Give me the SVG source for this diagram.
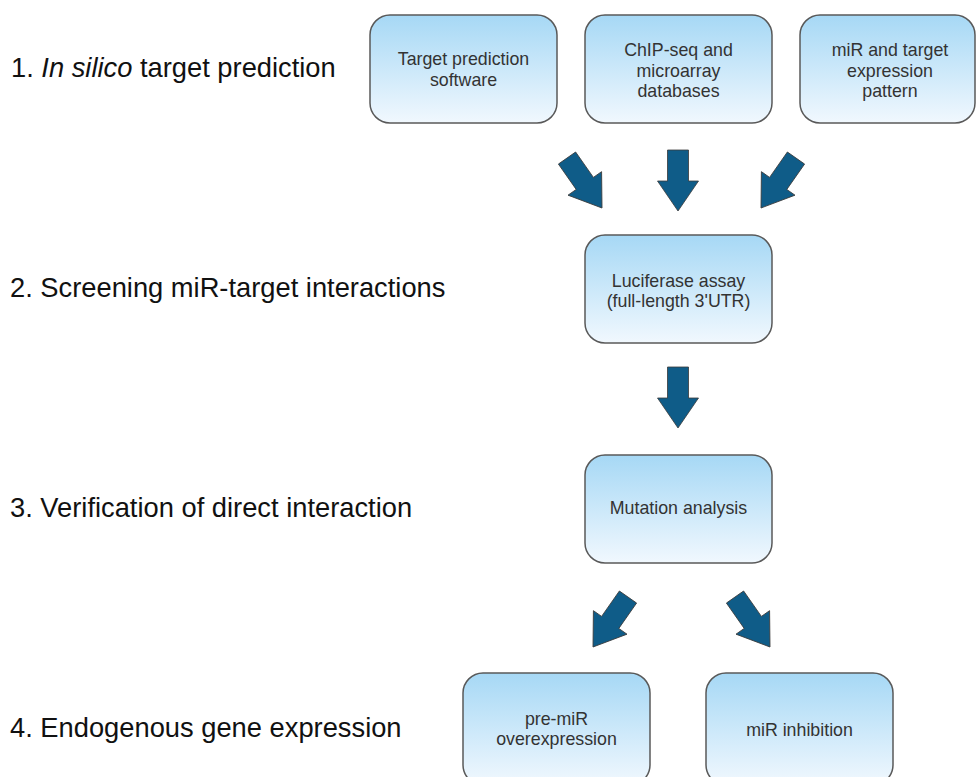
<svg xmlns="http://www.w3.org/2000/svg" width="976" height="777" viewBox="0 0 976 777">
  <style>
    .box { fill: url(#boxFill); stroke: #595959; stroke-width: 1.5; }
    .node-text { font-family: "Liberation Sans", Arial, sans-serif; font-size: 17.8px; fill: #333333; text-anchor: middle; }
    .step { font-family: "Liberation Sans", Arial, sans-serif; font-size: 27.3px; fill: #111111; }
    .arrow { fill: #0f5c88; stroke: #3a3a3a; stroke-width: 0.8; stroke-linejoin: miter; }
  </style>
  <defs>
    <linearGradient id="boxFill" x1="0" y1="0" x2="0" y2="1">
      <stop offset="0" stop-color="#a6d8f5"/>
      <stop offset="1" stop-color="#f1f8fe"/>
    </linearGradient>
    <!-- block arrow pointing down, tip at the origin -->
    <path id="blockArrow" d="M0,0 L20.5,-30 L10.5,-30 L10.5,-61 L-10.5,-61 L-10.5,-30 L-20.5,-30 Z"/>
  </defs>

  <rect width="976" height="777" fill="#ffffff"/>

  <!-- step labels -->
  <g id="steps">
    <text class="step" x="11" y="77">1. <tspan font-style="italic">In silico</tspan> target prediction</text>
    <text class="step" x="10" y="297">2. Screening miR-target interactions</text>
    <text class="step" x="10" y="517">3. Verification of direct interaction</text>
    <text class="step" x="10" y="737">4. Endogenous gene expression</text>
  </g>

  <g id="node-target-software">
    <rect class="box" x="370" y="15" width="187" height="108" rx="20" ry="20"/>
    <text class="node-text" x="463.5" y="65">Target prediction</text>
    <text class="node-text" x="463.5" y="86">software</text>
  </g>

  <g id="node-chipseq">
    <rect class="box" x="585" y="15" width="187" height="108" rx="20" ry="20"/>
    <text class="node-text" x="678.5" y="56">ChIP-seq and</text>
    <text class="node-text" x="678.5" y="76.5">microarray</text>
    <text class="node-text" x="678.5" y="97">databases</text>
  </g>

  <g id="node-expression-pattern">
    <rect class="box" x="800" y="15" width="175" height="108" rx="20" ry="20"/>
    <text class="node-text" x="890" y="56">miR and target</text>
    <text class="node-text" x="890" y="76.5">expression</text>
    <text class="node-text" x="890" y="97">pattern</text>
  </g>

  <g id="node-luciferase">
    <rect class="box" x="585" y="235" width="187" height="108" rx="20" ry="20"/>
    <text class="node-text" x="678.5" y="287">Luciferase assay</text>
    <text class="node-text" x="678.5" y="307">(full-length 3'UTR)</text>
  </g>

  <g id="node-mutation">
    <rect class="box" x="585" y="455" width="187" height="108" rx="20" ry="20"/>
    <text class="node-text" x="678.5" y="514">Mutation analysis</text>
  </g>

  <g id="node-overexpression">
    <rect class="box" x="463" y="673" width="187" height="112" rx="20" ry="20"/>
    <text class="node-text" x="556.5" y="725">pre-miR</text>
    <text class="node-text" x="556.5" y="745">overexpression</text>
  </g>

  <g id="node-inhibition">
    <rect class="box" x="706" y="673" width="187" height="112" rx="20" ry="20"/>
    <text class="node-text" x="799.5" y="736">miR inhibition</text>
  </g>

  <!-- connectors -->
  <g id="connectors">
    <use href="#blockArrow" class="arrow" transform="translate(602,208) rotate(-35)"/>
    <use href="#blockArrow" class="arrow" transform="translate(678,211)"/>
    <use href="#blockArrow" class="arrow" transform="translate(761,208) rotate(35)"/>
    <use href="#blockArrow" class="arrow" transform="translate(678,428)"/>
    <use href="#blockArrow" class="arrow" transform="translate(593,647) rotate(35)"/>
    <use href="#blockArrow" class="arrow" transform="translate(770,647) rotate(-35)"/>
  </g>
</svg>
